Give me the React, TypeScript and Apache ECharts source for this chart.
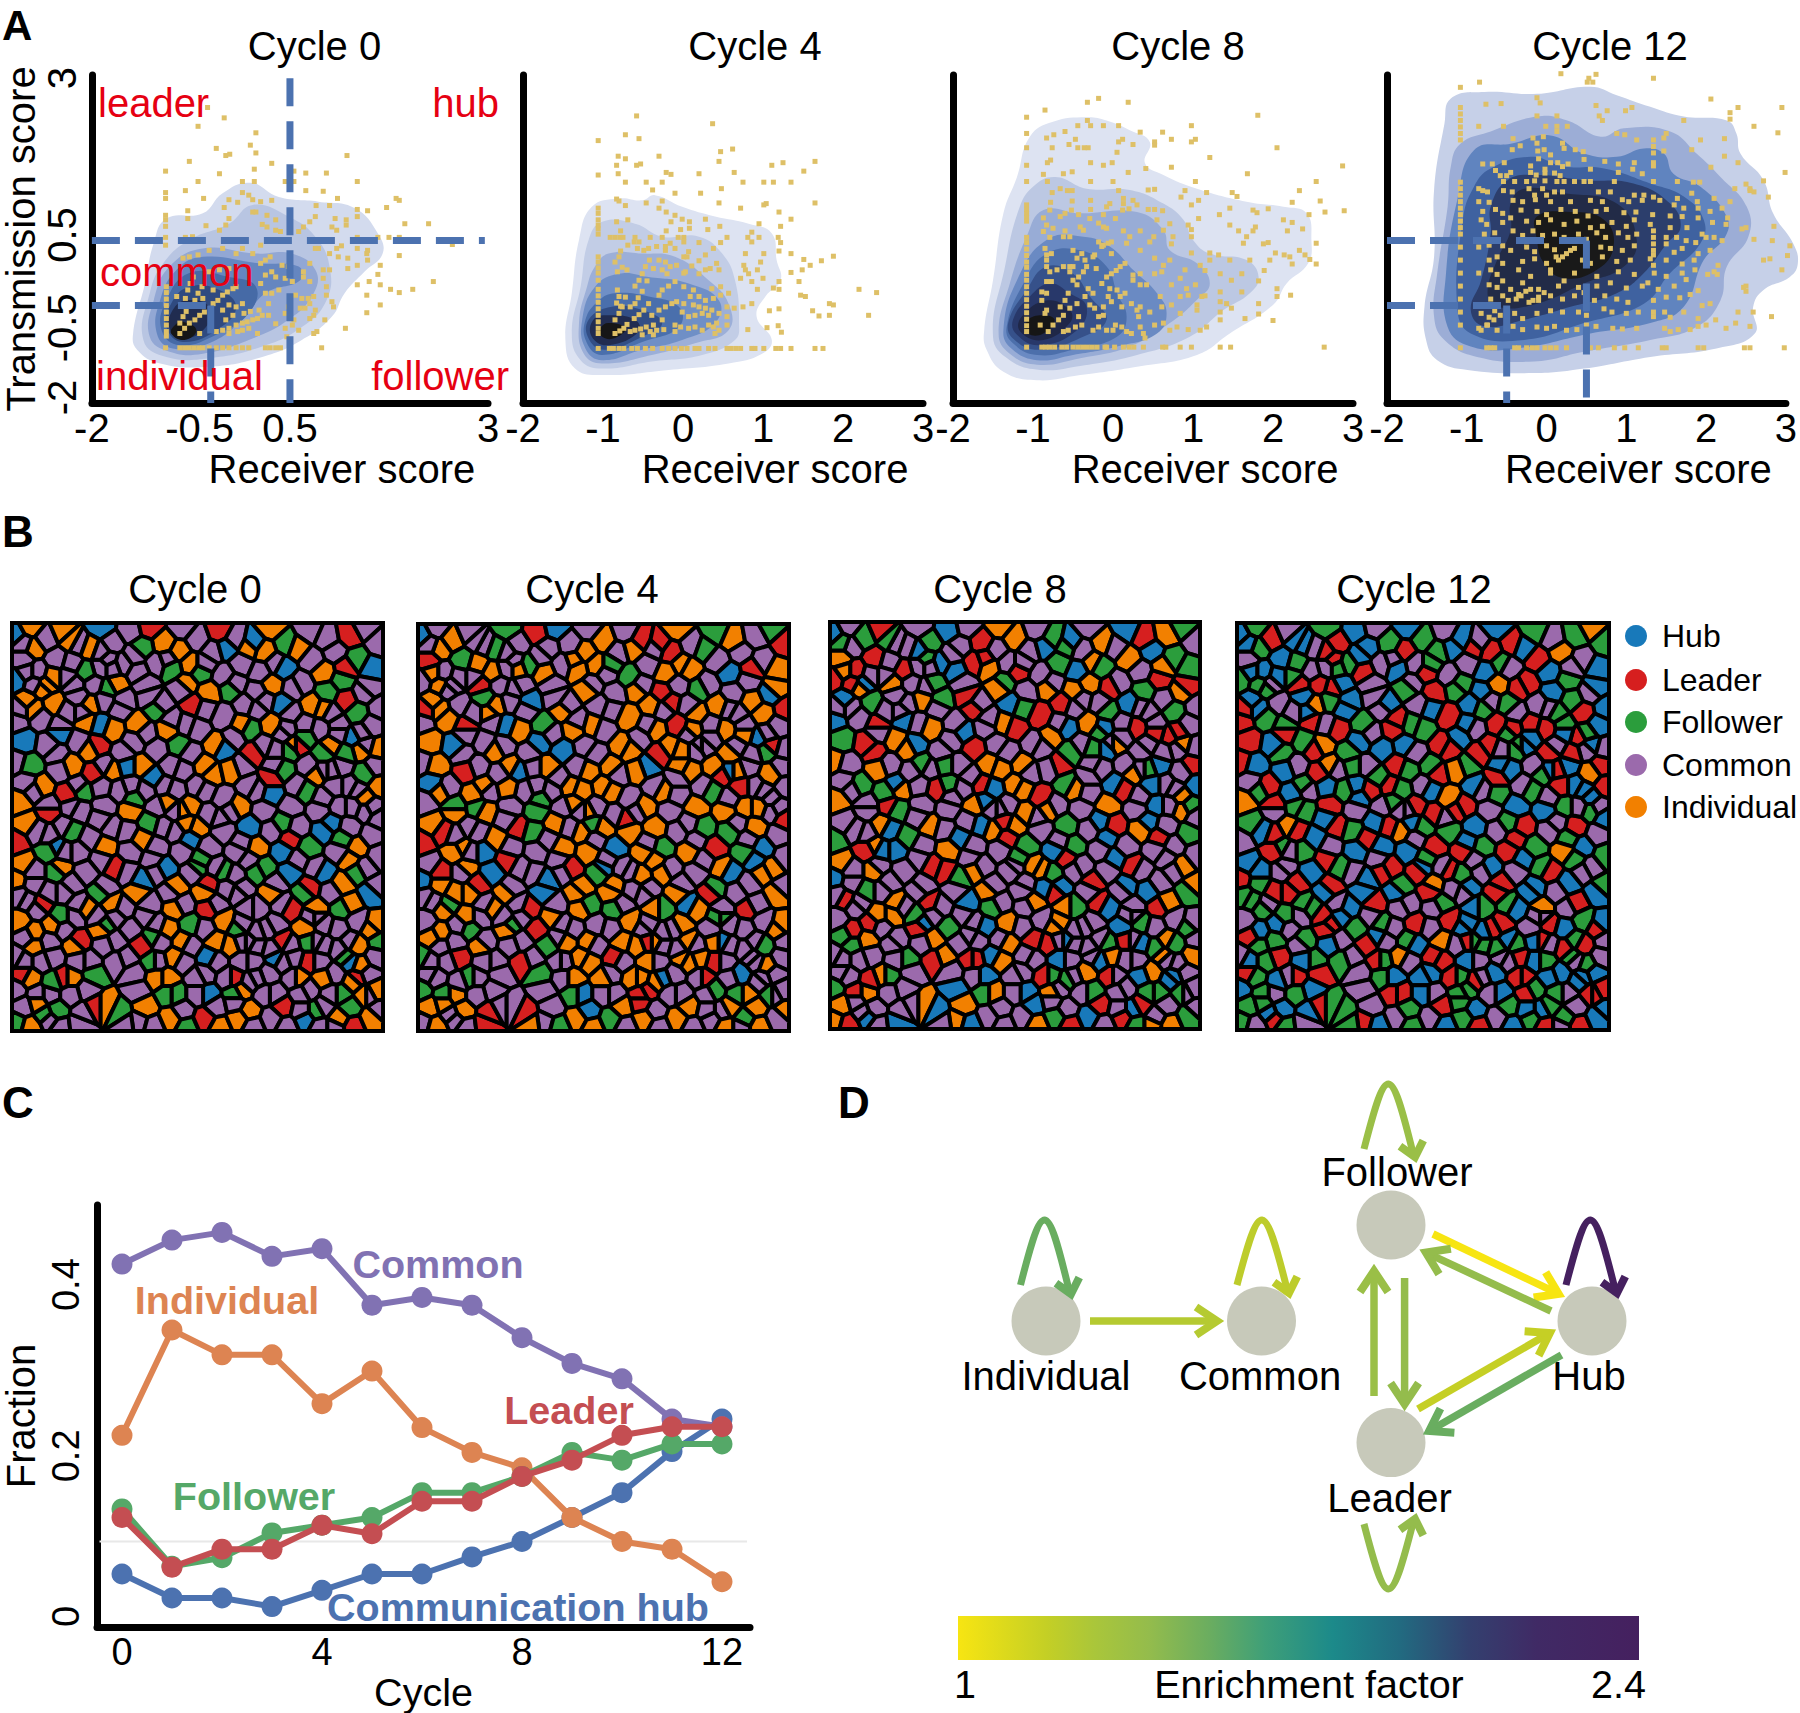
import React, { useEffect, useRef } from "react";
import * as echarts from "echarts";

const FONT = "Liberation Sans";

// ---------- Panel A data (receiver score, transmission score) ----------
const scoreTicksA = [-2, -0.5, 0.5, 3];
const scoreLabelsY = [" -2", "-0.5    ", " 0.5", "3"];
const scoreLabelsX = ["-2", "-0.5  ", "0.5", "3"];
const cycleTitlesA = ["Cycle 0", "Cycle 4", "Cycle 8", "Cycle 12"];

const points0 = [-.54,2.55,-.33,2.39,-.66,2.26,.07,2.16,0,1.97,-.43,1.92,-.31,1.81,-.26,1.83,.07,1.85,1.22,1.81,-.77,1.72,.27,1.69,.05,1.6,-1.07,1.57,-.39,1.53,.55,1.57,.7,1.54,.96,1.54,-.66,1.41,-.1,1.41,.05,1.41,.44,1.41,.55,1.41,1.35,1.41,-.82,1.27,-1.07,1.24,-1.07,1.15,-.59,1.15,.7,1.27,.92,1.26,-.1,1.24,-.27,1.13,-.02,1.2,.03,1.13,1.1,1.15,1.84,1.15,1.88,1.12,.13,1.1,.27,1.12,-.16,1.09,-.33,1.01,.83,1.04,1,1.04,1.72,1.01,1.35,.98,1.48,.96,-.79,.96,.03,.94,.07,.94,.21,.89,-1.07,.89,-1.07,.82,-1.07,.72,-.79,.84,-.27,.84,.32,.82,.82,.87,.75,.79,.67,.71,.61,.64,1.07,.84,1.03,.71,1.21,.82,1.21,.74,1.35,.87,1.95,.76,2.25,.76,-.56,.73,-.31,.74,.15,.75,.21,.71,.32,.66,.38,.64,-.39,.66,1.09,.66,1.35,.55,1.61,.55,1.75,.55,1.88,.55,2.55,.44,-1.07,.55,-1.07,.43,-.82,.55,-.73,.56,-.1,.38,-.35,.38,.13,.43,.03,.3,-.18,.3,-.52,.35,1.15,.42,1.09,.38,.82,.38,.86,.38,1.35,.38,1.48,.35,1.47,.3,1.88,.27,1.11,.25,1,.3,.25,.25,.19,.2,.13,.15,1.48,.2,1.23,.23,1.23,.07,1.35,.12,1.64,.12,-.85,.23,-.77,.25,-.66,.28,.75,.15,1,.05,.92,.05,.67,.02,.48,.1,.4,.12,1.61,-.02,1.5,-.13,1.35,-.18,1.64,-.18,2.31,-.13,2.05,-.25,1.77,-.25,1.88,-.3,.27,.02,.19,-.03,.32,-.06,.44,-.08,.53,-.13,.67,-.06,.75,-.13,.92,-.08,.96,-.21,.13,-.16,-.52,.02,-.39,.05,-.27,.07,-1.06,-.21,-1.06,-.3,-1.06,-.4,-1.06,-.5,-1.06,-.6,-1.06,-.7,-1.06,-.8,-1.06,-.9,-1.06,-.97,-.89,-.93,-.83,-.85,-.77,-.77,-.7,-.72,-.64,-.65,-.58,-.6,-.89,-.77,-.85,-.67,-.81,-.59,-.82,-.39,-.79,-.26,-.76,-.16,-.72,-.06,-.7,-.42,-.66,-.31,-.61,-.21,-.6,-.39,-.47,-.26,-.47,-.47,-.41,-.42,-.35,-.34,-.29,-.29,-.22,-.24,-.18,-.21,-.43,-.9,-.35,-.88,-.27,-.85,-.18,-.8,-.1,-.77,-.04,-.75,.03,-.72,.09,-.7,.15,-.65,-.08,-.62,0,-.59,.11,-.57,-.27,-.49,-.18,-.52,-.1,-.47,-.22,-.65,-.31,-.72,-.35,-.57,-.64,-.93,-.93,-.36,-.1,-.88,.09,-.93,-.02,-.85,-.27,-.93,-.16,-.9,.23,-.47,.19,-.31,.27,-.31,.36,-.26,.57,-.34,.65,-.39,.73,-.39,.8,-.36,.75,-.47,.69,-.54,.63,-.54,.82,-.57,.8,-.65,.75,-.7,.48,-.52,.44,-.62,.55,-.72,.53,-.8,.44,-.85,.46,-.98,.61,-.88,.23,-.65,.32,-.78,.84,-.9,.8,-.93,.94,-.72,1.05,-.52,1.03,-.44,.96,-.34,1.2,-.85,1.47,-.34,1.64,-.49,1.47,-.61,.9,-1.15,-1.07,-1.15,-.89,-1.15,-.83,-1.15,-.77,-1.15,-.71,-1.15,-.65,-1.15,-.6,-1.15,-.52,-1.15,-.43,-1.15,-.35,-1.15,-.27,-1.15,-.18,-1.15,-.1,-1.15,-.02,-1.15,.19,-1.15,.25,-1.15,.32,-1.15,.38,-1.15];

const points4 = [-.58,2.42,.37,2.3,-1.06,2.04,-.72,2.13,-.55,2.07,-.81,1.8,-.72,1.76,-.3,1.8,-.58,1.66,-.53,1.68,-.83,1.66,.47,1.87,.62,1.91,.45,1.72,-1.06,1.51,-.81,1.53,-.21,1.55,-.15,1.52,.2,1.53,.64,1.55,1.11,1.66,1.25,1.7,1.65,1.72,1.51,1.57,-.72,1.4,-.46,1.4,-.26,1.4,.75,1.4,1.01,1.4,1.13,1.4,1.35,1.4,-.38,1.28,.48,1.3,-.1,1.23,.22,1.23,-.83,1.14,-.8,1.11,-.46,1.08,-.26,1.11,.45,1.08,1.65,1.08,1.01,1.05,1.04,1.07,.72,1,-.72,1.04,-.3,1,-.21,.94,1.2,.94,-.1,.89,-.01,.83,.08,.79,.28,.83,1.35,.83,-.83,.79,-.69,.82,-.15,.79,.95,.76,1.22,.72,.46,.72,.31,.67,.08,.69,-.03,.67,-.21,.65,-.78,.65,.86,.63,-1.06,1,-1.06,.92,-1.06,.82,-1.06,.74,-1.06,.68,-1.06,.6,-.91,.55,-.85,.55,-.79,.55,-.75,.55,-.6,.55,-.61,.48,-.55,.48,-.41,.55,-.26,.55,-.06,.55,.01,.55,.01,.48,.2,.47,.47,.47,.55,.55,.81,.55,.95,.55,.86,.48,1.19,.55,1.22,.47,1.2,.34,-.69,.43,-.57,.38,-.49,.35,-.43,.38,-.33,.41,-.22,.41,-.16,.46,-.1,.38,-.22,.35,.38,.38,.28,.28,.2,.19,.11,.11,.01,0,-.1,-.13,-.18,-.2,-.26,-.26,-.3,-.34,.07,.33,.01,.25,.05,.25,-.78,.34,-.8,.25,-.85,.17,-.76,.09,-.82,.02,-.7,.05,-.42,.2,-.47,.1,-.51,-.01,-.55,-.11,-.6,-.2,-.3,.2,-.22,.17,-.16,.1,-.26,.05,-.37,.07,-.2,-.01,-.08,.12,.03,.02,.2,-.01,.28,.05,.34,.07,.42,.15,.45,.05,.76,.12,.78,.05,.82,-.01,.72,-.08,.93,.05,.97,.17,1.01,.3,.78,.3,1,-.08,.86,-.13,1.2,-.13,1.13,-.23,1.2,-.25,.93,-.25,1.35,.3,1.51,.21,1.59,.12,1.73,.19,1.88,.26,1.49,.05,1.35,.01,1.45,-.13,2.2,-.25,2.42,-.3,1.47,-.34,1.53,-.36,1.83,-.47,1.88,-.49,1.62,-.58,1.7,-.66,1.83,-.65,2.32,-.65,1.08,-.58,1.2,-.55,.86,-.47,.75,-.52,.64,-.54,1.05,-.84,1.19,-.81,1.23,-.91,.81,-.87,-1.06,.25,-1.06,.17,-1.06,.08,-1.06,0,-1.06,-.11,-1.06,-.25,-1.06,-.35,-1.06,-.45,-1.06,-.55,-1.06,-.65,-1.06,-.75,-1.06,-.85,-1.06,-.93,-.85,-.93,-.79,-.89,-.74,-.85,-.7,-.79,-.85,-.72,-.8,-.62,-.76,-.52,-.72,-.37,-.82,-.26,-.8,-.36,-.83,-.46,-.78,-.51,-.66,-.9,-.6,-.88,-.53,-.86,-.46,-.83,-.61,-.7,-.55,-.64,-.49,-.57,-.43,-.47,-.6,-.47,-.56,-.38,-.51,-.28,-.45,-.12,-.66,-.52,-.41,-.9,-.33,-.88,-.24,-.87,-.37,-.95,-.51,-.95,-.39,-.65,-.3,-.57,-.22,-.52,-.14,-.47,-.08,-.44,-.26,-.72,-.37,-.8,.01,-.21,.09,-.36,.2,-.36,.28,-.42,.38,-.39,.47,-.34,.57,-.31,.47,-.21,.36,-.24,.13,-.26,.01,-.47,-.01,-.6,.13,-.49,.2,-.52,.28,-.54,.36,-.57,.07,-.67,.15,-.65,.24,-.62,.32,-.65,.45,-.62,.55,-.52,.55,-.67,.55,-.8,-.1,-.8,-.03,-.83,-.1,-.9,.07,-.85,.15,-.83,.24,-.88,.32,-.8,.38,-.83,.42,-.77,.45,-.88,.4,-.93,-1.06,-1.16,-.92,-1.16,-.87,-1.16,-.8,-1.16,-.74,-1.16,-.64,-1.16,-.57,-1.16,-.47,-1.16,-.38,-1.16,-.26,-1.16,-.18,-1.16,-.1,-1.16,-.02,-1.16,.05,-1.16,.15,-1.16,.2,-1.16,.32,-1.16,.4,-1.16,.55,-1.16,.6,-1.16,.66,-1.16,.72,-1.16,.86,-1.16,.9,-1.16,1.01,-1.16,1.16,-1.16,1.22,-1.16,1.35,-1.16,1.65,-1.16,1.75,-1.16];

const points8 = [-.18,2.69,-.32,2.63,.19,2.63,-.85,2.51,-1.08,2.4,1.81,2.43,-.32,2.35,-.44,2.27,-.28,2.27,-.12,2.27,.07,2.27,.98,2.27,-.6,2.18,-.74,2.13,-1.08,2.15,.34,2.17,.62,2.17,-.83,2.08,-.47,2.06,.12,2.06,.07,2.02,.25,1.98,.52,2.02,.52,1.97,.73,2.06,.98,2.02,1.03,2.06,-.55,1.98,-.76,1.93,-1.08,1.93,-.44,1.93,-.36,1.93,-.31,1.93,2.05,1.93,.05,1.86,1.21,1.78,-.78,1.74,-.82,1.7,-.28,1.7,-.12,1.66,-.01,1.7,-1.08,1.66,.41,1.61,.73,1.63,2.87,1.65,-.87,1.52,-.62,1.53,-.51,1.56,.19,1.55,1.68,1.53,-1.08,1.41,-.82,1.41,-.28,1.41,0,1.41,1.03,1.41,2.54,1.41,-.66,1.3,-.57,1.27,-.51,1.27,-.76,1.24,.07,1.27,.44,1.28,.52,1.29,.9,1.27,1.17,1.24,1.49,1.24,1.55,1.18,2.33,1.27,.13,1.15,.13,1.07,.25,1.12,-.78,1.09,-.51,1.11,-.28,1.12,-.04,1.07,-.08,1.02,.3,1.05,.85,1.17,1.07,1.12,.98,1.05,1.46,1,1.94,.99,2.24,1.09,2.59,1.11,2.65,.94,2.89,.96,1.75,.97,1.8,.93,1.33,.9,2.45,.9,-1.08,1.05,-1.08,.98,-1.08,.92,-1.08,.86,-1.08,.8,-1.08,.55,-1.08,.47,-1.08,.37,-1.08,.27,-1.08,.17,-1.08,.09,-1.08,-.02,-1.08,-.11,-1.08,-.21,-1.08,-.31,-1.08,-.41,-1.08,-.51,-1.08,-.61,-1.08,-.71,-1.08,-.81,-1.08,-.9,-.79,.97,-.6,.92,-.66,.87,-.52,.97,-.43,.9,-.28,.98,-.12,.9,.03,.84,.12,.97,.2,.99,.44,.98,.52,.98,.62,.96,-.87,.85,-.29,.84,-.83,.74,-.87,.64,-.75,.69,-.6,.65,-.41,.71,-.37,.66,-.18,.77,-.12,.71,-.08,.69,.13,.65,.21,.56,.34,.65,.55,.82,.63,.66,.71,.76,.94,.74,.98,.67,1.07,.84,1.46,.74,1.57,.65,1.78,.71,1.75,.65,2.13,.82,2.24,.78,2.18,.65,2.37,.68,-.79,.55,-.62,.56,-.54,.56,-.18,.48,-.12,.43,-.02,.48,.17,.46,.46,.48,.51,.56,.75,.56,.73,.45,.98,.56,1.88,.45,1.94,.47,1.63,.46,1.67,.56,2.54,.46,-.85,.38,-.83,.28,-.77,.3,-.5,.35,-.39,.3,-.23,.28,-.14,.41,-.02,.3,-.06,.46,.34,.35,.98,.31,1.21,.31,1.32,.28,2.03,.31,2.14,.28,2.21,.25,2.33,.35,2.4,.28,2.46,.21,1.96,.2,1.71,.2,1.46,.2,2.54,.14,2.24,.14,1.89,.04,1.21,.2,1.09,.12,1.15,.04,.9,.05,.71,.2,.63,.12,.52,.23,.61,.02,.52,-.01,.34,-.01,.25,-.03,-.83,.2,-.83,.1,-.79,.02,-.7,.05,-.62,.1,-.54,.1,-.45,.23,-.5,.1,-.54,.02,-.35,.2,-.33,.1,-.37,.02,-.25,.25,-.21,.07,-.43,-.06,-.5,-.11,.15,.15,.09,.1,.04,.04,-.02,-.01,-.08,-.06,-.14,-.16,-.83,-.13,-.77,-.13,-.89,-.29,-.83,-.31,-.89,-.42,-.45,-.18,-.56,-.31,-.6,-.42,-.66,-.52,-.35,-.36,-.45,-.47,-.54,-.54,-.62,-.65,-.68,-.72,-.83,-.57,-.85,-.62,-.91,-.8,-.81,-.9,-.75,-.8,-.62,-.9,-.56,-.88,-.47,-.83,-.43,-.67,-.39,-.8,-.31,-.24,-.25,-.31,-.29,-.49,-.23,-.54,-.12,-.52,-.12,-.65,-.18,-.67,-.25,-.88,-.18,-.83,-.08,-.88,0,-.88,.03,-.8,.11,-.83,.17,-.9,.23,-.93,-.04,-.24,.05,-.26,.09,-.36,.15,-.31,-.06,-.36,-.02,-.44,.25,-.11,.34,-.18,.42,-.18,.11,-.52,.23,-.47,.3,-.57,.34,-.52,.32,-.67,.34,-.83,.46,-.6,.59,-.36,.61,-.52,.38,-.93,.4,-1,.52,-.8,.63,-.77,.71,-.88,.8,-.83,.94,-.87,1.09,-.88,1.17,-.83,.73,-.18,.84,-.08,.92,-.24,.94,-.34,1.05,-.49,1.05,-.57,1.11,-.36,1.15,-.35,1.03,-.18,.84,-.36,.73,-.49,.84,-.62,1.34,-.01,1.34,-.29,1.34,-.44,1.42,-.47,1.48,-.54,1.34,-.6,1.34,-.72,1.65,-.7,1.82,-.47,1.82,-.63,2,-.73,2.05,-.24,2.05,-.36,2.22,-.34,1.82,-.12,1.61,-.01,1.48,-.11,1.61,-.29,-1.08,-1.14,-.89,-1.14,-.84,-1.14,-.79,-1.14,-.73,-1.14,-.64,-1.14,-.58,-1.14,-.5,-1.14,-.44,-1.14,-.38,-1.14,-.32,-1.14,-.26,-1.14,-.2,-1.14,-.1,-1.14,-.08,-1.14,.02,-1.14,.13,-1.14,.2,-1.14,.26,-1.14,.38,-1.14,.62,-1.14,.66,-1.14,.84,-1.14,.98,-1.14,1.34,-1.14,1.47,-1.14,2.64,-1.14];

const points12 = [.18,3.07,.62,3.06,.53,3,.58,2.94,.51,2.94,1.34,3,-.84,2.94,-1.08,2.86,-.12,2.7,-.08,2.62,2.06,2.68,-.76,2.6,-.57,2.61,.62,2.58,.76,2.5,.99,2.5,1.07,2.55,2.4,2.55,2.95,2.55,-1.08,2.55,-1.08,2.45,-1.08,2.35,-1.08,2.25,-1.08,2.15,-1.08,2.05,-.12,2.42,.13,2.42,.66,2.42,.7,2.35,1.72,2.35,2.3,2.37,2.3,2.47,-.85,2.26,-.54,2.26,-.01,2.26,.13,2.26,.26,2.26,.13,2.18,2.6,2.26,2.9,2.16,.88,2.15,.98,2.13,1.13,2.05,1.5,2.15,1.47,2.08,2.23,2.07,1.93,2.05,-.42,2.07,-.17,2.08,-.04,2.1,-.12,2,-.33,1.96,-.43,1.9,-.03,1.9,-.11,1.88,.2,2,.22,1.92,.36,1.9,.05,1.82,.46,1.87,-.1,1.76,1.34,2.05,1.34,1.95,1.34,1.85,1.34,1.7,1.34,1.65,1.47,1.88,1.82,1.9,2.23,1.8,.9,1.68,1.1,1.7,.73,1.72,.55,1.6,.47,1.75,-.8,1.68,-.68,1.68,-.64,1.58,-.53,1.7,-.45,1.55,-.2,1.65,.05,1.7,.14,1.7,-.02,1.6,.2,1.64,.27,1.68,1.08,1.6,.9,1.55,1.2,1.53,2.06,1.63,2.4,1.7,2.99,1.55,-.5,1.5,-.58,1.5,-.2,1.55,-.13,1.51,-.02,1.54,.1,1.54,.17,1.5,-.54,1.41,-.4,1.41,-.25,1.41,-.15,1.42,-.02,1.42,.13,1.41,.22,1.41,.35,1.41,.47,1.41,.55,1.41,.85,1.41,1.34,1.41,1.64,1.41,1.84,1.4,1.92,1.4,2.5,1.37,2.55,1.27,2.36,1.3,2.55,1.3,2.72,1.42,2.6,1.25,2.78,1.17,-.85,1.3,-.8,1.27,-.74,1.25,-.54,1.27,-.43,1.25,-.22,1.3,-.15,1.2,-.05,1.3,0,1.2,.1,1.25,.2,1.25,.65,1.25,.8,1.25,1.1,1.2,1.22,1.2,1.34,1.17,1.64,1.15,1.82,1.23,2.3,1.1,2.1,1.15,1.89,1.1,-.85,1.1,-.72,1.09,-.42,1.12,-.3,1.1,-.14,1.13,.05,1.1,.3,1.1,.55,1.12,.7,1.1,.95,1.13,1.03,1.1,1.2,1.12,1.42,1.12,1.6,1.05,1.72,1,1.9,1,2.05,.95,2.2,1,-.8,.95,-.64,.98,-.55,.92,-.32,.97,-.12,.95,0,.9,.18,.98,.36,.95,.52,.88,.62,.95,.75,.98,.97,.93,1.12,.94,1.33,.9,1.55,.88,1.7,.87,1.9,.85,2.08,.78,2.27,.85,-.82,.82,-.75,.75,-.55,.78,-.45,.85,-.25,.8,-.1,.78,.05,.82,.22,.75,.38,.8,.55,.7,.7,.72,.82,.78,1,.72,1.1,.82,1.3,.75,1.34,.65,1.55,.7,1.76,.7,1.95,.6,2.25,.75,2.45,.68,2.5,.7,2.85,.72,-.78,.6,-.65,.62,-.42,.65,-.3,.58,-.17,.65,-.05,.58,.1,.6,.22,.55,.4,.6,.5,.52,.63,.62,.74,.55,.9,.62,1.02,.55,1.13,.6,1.34,.55,1.34,.45,1.5,.55,1.5,.45,1.63,.55,1.75,.5,1.87,.47,2,.55,2.1,.55,2.2,.5,2.83,.5,2.6,.52,3.05,.42,-1.08,.4,-.85,.4,-.72,.43,-.55,.42,-.45,.35,-.25,.4,-.15,.33,0,.42,.1,.36,.35,.38,.5,.32,.68,.4,.8,.38,.95,.35,1.1,.42,1.34,.35,1.34,.28,1.6,.32,1.7,.38,1.9,.3,2.05,.35,3.02,.27,2.72,.2,2.8,.22,2.95,.05,.3,.35,.25,.3,.2,.25,.15,.2,.05,.05,-1.08,.2,-.72,.2,-.62,.25,-.55,.15,-.3,.18,-.15,.22,0,.15,.12,.25,.45,.2,.55,.15,.7,.25,.88,.18,1.05,.2,1.3,.22,1.34,.12,1.5,.2,1.7,.14,1.85,.2,2.15,.12,2.1,.02,2.14,-.02,2.5,-.2,-1.08,0,-.85,0,-.7,.05,-.62,-.02,-.35,.05,-.2,-.05,.05,0,.35,0,.63,-.05,.9,.02,1.1,-.02,1.35,0,1.5,-.05,1.7,0,1.86,.05,2.02,-.02,2.5,-.28,2.47,-.22,-1.08,-.2,-.72,-.18,-.62,-.22,-.55,-.12,-.45,-.25,-.3,-.15,-.1,-.25,.15,-.2,.22,-.12,.4,-.22,.63,-.2,.8,-.15,1,-.23,1.2,-.2,1.4,-.25,1.6,-.2,1.75,-.1,1.9,-.27,1.27,-.15,-1.08,-.4,-.7,-.4,-.55,-.35,-.48,-.42,-.35,-.33,-.22,-.45,-.1,-.42,.05,-.35,.2,-.4,.35,-.35,.47,-.3,.6,-.42,.73,-.35,.88,-.4,1.02,-.45,1.34,-.42,1.5,-.37,1.67,-.38,1.8,-.33,2.05,-.47,1.95,-.5,2.59,-.6,2.4,-.6,-1.08,-.6,-.82,-.62,-.72,-.68,-.65,-.58,-.5,-.55,-.4,-.62,-.3,-.7,-.12,-.62,.05,-.58,.2,-.6,.4,-.6,.5,-.65,.72,-.55,.82,-.6,1,-.62,1.15,-.6,1.34,-.6,1.34,-.67,1.48,-.6,1.55,-.68,1.72,-.6,1.9,-.7,2.12,-.72,2.37,-.77,2.82,-.67,-1.08,-.8,-.85,-.85,-.75,-.8,-.62,-.88,-.42,-.82,-.3,-.87,-.12,-.83,0,-.85,.1,-.82,.25,-.88,.38,-.87,.5,-.8,.62,-.82,.83,-.85,.95,-.86,1.13,-.85,1.48,-.85,1.55,-.9,1.65,-.87,1.8,-.87,1.9,-.82,2,-.8,2.25,-.85,2.55,-.82,-.82,-.88,-.74,-.8,-.66,-.72,-.58,-.65,-.38,-.4,-.32,-.35,-.26,-.28,-.2,-.25,-.17,-.42,-.1,-.37,-.03,-.3,-1.08,-1.15,-.75,-1.15,-.7,-1.15,-.65,-1.15,-.4,-1.15,-.35,-1.15,-.25,-1.15,-.18,-1.15,-.12,-1.15,-.02,-1.15,.05,-1.15,.12,-1.15,.25,-1.15,.55,-1.15,.65,-1.15,.85,-1.15,.98,-1.15,1.15,-1.15,1.45,-1.15,1.5,-1.15,1.9,-1.15,1.97,-1.15,2.48,-1.15,2.55,-1.15,2.98,-1.15,-1.08,1.4,-1.08,1.3,-1.08,1.2,-1.08,1.1,-1.08,1,-1.08,.9,-1.08,.8,-1.08,.7,-1.08,.6];

const density0 = [
  [0,1.39,.36,1.17,.86,1.1,1.32,1,1.61,.61,1.67,.3,1.44,.02,1.19,-.31,1.03,-.67,.65,-1.03,.15,-1.29,-.52,-1.44,-1.14,-1.39,-1.43,-1.18,-1.48,-.93,-1.33,-.16,-1.22,.46,-1.06,.84,-.6,.92,-.35,1.23],
  [.03,1.05,.48,.87,.82,.56,1,.1,.96,-.42,.65,-.83,.15,-1.13,-.52,-1.31,-1.06,-1.29,-1.35,-1.03,-1.27,-.31,-1.1,.15,-.77,.51,-.27,.76],
  [-.6,.38,.07,.3,.52,.3,.82,.05,.8,-.31,.48,-.72,-.02,-1.03,-.6,-1.24,-1.02,-1.21,-1.27,-.98,-1.22,-.42,-1.02,.1],
  [-.6,.25,.11,.15,.61,.1,.63,-.11,.19,-.31,-.1,-.72,-.52,-1.08,-.98,-1.16,-1.18,-.93,-1.14,-.42,-.93,.05],
  [-.77,0,-.27,-.06,.07,-.21,-.02,-.62,-.43,-.95,-.89,-1.11,-1.12,-.88,-1.06,-.42],
  [-.77,-.21,-.39,-.26,-.18,-.52,-.39,-.85,-.85,-1.06,-1.06,-.83,-1,-.47],
  [-.81,-.42,-.52,-.52,-.56,-.83,-.85,-1.01,-1.02,-.85,-.98,-.57],
  [-.85,-.75,-.68,-.88,-.83,-1.03,-1,-.93,-.95,-.8],
];
const density4 = [
  [-.35,1.2,-.01,1.02,.4,.87,.82,.76,1.11,.61,1.17,.2,1.22,-.11,1.03,-.36,.92,-.67,1.11,-1.03,.99,-1.24,.57,-1.39,-.18,-1.49,-1.01,-1.57,-1.35,-1.47,-1.47,-1.03,-1.39,-.31,-1.3,.51,-1.14,1.02,-.8,1.15,-.51,1.12],
  [-1.01,.79,-.6,.76,-.26,.56,.2,.56,.49,.3,.65,-.11,.7,-.77,.65,-1.03,.24,-1.26,-.39,-1.36,-1.01,-1.47,-1.28,-1.34,-1.39,-.93,-1.28,-.21,-1.18,.51],
  [-.93,.3,-.51,.3,-.1,.25,.32,-.11,.57,-.47,.57,-.88,.15,-1.08,-.39,-1.26,-1.01,-1.39,-1.24,-1.24,-1.3,-.77,-1.2,-.21,-1.1,.1],
  [-.8,-.01,-.43,-.06,.07,-.16,.45,-.42,.4,-.77,-.01,-1.03,-.51,-1.18,-1.01,-1.34,-1.22,-1.16,-1.26,-.72,-1.1,-.21],
  [-.85,-.31,-.43,-.36,-.05,-.52,-.05,-.83,-.51,-1.06,-1.01,-1.26,-1.2,-1.08,-1.22,-.72,-1.05,-.42],
  [-.89,-.52,-.51,-.57,-.26,-.77,-.51,-.98,-.97,-1.18,-1.17,-1.03,-1.18,-.72],
  [-.93,-.65,-.6,-.72,-.55,-.9,-.93,-1.11,-1.14,-.98,-1.12,-.72],
  [-.93,-.77,-.72,-.85,-.85,-1,-1.01,-.98,-1.03,-.85],
];
const density8 = [
  [-.33,2.4,-.08,2.35,.21,2.2,.46,2.02,.4,1.69,.63,1.51,1.05,1.3,1.67,1.1,2.13,1.02,2.42,.92,2.48,.51,2.44,.15,2.17,-.16,2,-.49,1.46,-.93,1.05,-1.26,.3,-1.44,-.41,-1.57,-.95,-1.65,-1.37,-1.52,-1.58,-1.18,-1.61,-.88,-1.5,-.11,-1.37,.92,-1.2,1.48,-1.04,2.1,-.75,2.33],
  [-.72,1.48,-.33,1.3,.21,1.28,.63,1.07,.88,.82,1,.51,1.21,.3,1.67,.2,1.82,-.06,1.71,-.31,1.38,-.57,.96,-.98,.3,-1.26,-.41,-1.43,-.91,-1.49,-1.29,-1.34,-1.5,-.98,-1.35,.1,-1.18,.97,-1,1.33],
  [-.87,.97,-.41,.92,.3,.94,.63,.66,.71,.35,1.05,.15,1.21,-.16,1.05,-.41,.71,-.77,.21,-1.13,-.41,-1.31,-.95,-1.41,-1.29,-1.24,-1.43,-.93,-1.29,-.16,-1.08,.56],
  [-.83,.51,-.37,.56,-.04,.41,.25,.05,.55,-.31,.67,-.62,.55,-.93,.05,-1.13,-.5,-1.26,-.95,-1.34,-1.27,-1.16,-1.37,-.88,-1.2,-.11],
  [-.83,.3,-.41,.35,-.08,.1,.05,-.31,.17,-.67,.05,-.98,-.5,-1.18,-.95,-1.26,-1.25,-1.08,-1.33,-.83,-1.12,-.16],
  [-.83,.1,-.5,-.01,-.29,-.36,-.08,-.72,-.41,-1,-.91,-1.18,-1.23,-1.03,-1.31,-.77,-1.08,-.26],
  [-.79,-.16,-.54,-.31,-.33,-.52,-.45,-.88,-.91,-1.11,-1.2,-.95,-1.25,-.72,-1.04,-.36],
  [-.83,-.42,-.54,-.57,-.54,-.77,-.87,-1.03,-1.16,-.9,-1.14,-.67],
  [-.91,-.65,-.73,-.72,-.87,-.93,-1.06,-.93,-1.08,-.75],
];
const density12 = [
  [-1.2,2.69,-.78,2.79,-.12,2.76,.55,2.87,.88,2.74,1.3,2.56,1.72,2.41,2.26,2.35,2.38,2.15,2.43,1.84,2.72,1.43,2.84,.92,3.09,.46,3.15,.15,3.05,-.06,2.72,-.26,2.59,-.52,2.61,-.93,2.13,-1.16,1.3,-1.29,.47,-1.47,-.16,-1.54,-.99,-1.49,-1.37,-1.34,-1.51,-1.03,-1.53,-.52,-1.41,.25,-1.41,1.28,-1.28,2.3],
  [-1.08,1.99,-.7,2.18,-.12,2.41,.26,2.35,.68,2.1,.97,2.23,1.55,2.18,1.88,1.84,2.18,1.48,2.51,1.02,2.53,.56,2.26,.1,2.18,-.42,1.88,-.83,1.3,-1.03,.47,-1.21,-.16,-1.36,-.87,-1.29,-1.28,-1.03,-1.41,-.67,-1.37,0,-1.24,1.02,-1.2,1.64],
  [-.91,1.89,-.45,1.99,.05,2.12,.47,1.84,.88,1.79,1.22,1.92,1.47,1.84,1.59,1.53,1.93,1.33,2.26,.87,2.24,.56,1.97,.2,1.72,-.52,1.3,-.77,.55,-.93,-.37,-1.16,-.95,-1.13,-1.24,-.83,-1.26,0,-1.12,1.12],
  [-.7,1.61,-.2,1.79,.22,1.64,.72,1.61,1.3,1.38,1.72,1.18,1.97,.82,1.93,.46,1.55,0,1.22,-.47,.47,-.77,-.28,-1.03,-.95,-.93,-1.12,-.52,-1.05,.82,-.91,1.33],
  [-.49,1.43,-.12,1.51,.47,1.43,1.09,1.38,1.55,1.07,1.68,.71,1.51,.46,1.22,0,.88,-.31,.3,-.52,-.28,-.72,-.78,-.82,-.95,-.57,-.82,-.11,-.7,.61,-.7,1.02],
  [-.28,1.3,.22,1.23,.88,1.07,1.13,.51,.97,.1,.47,-.16,-.12,-.47,-.62,-.52,-.74,-.31,-.62,.2,-.45,.66,-.45,1.07],
  [-.12,.87,.3,.94,.72,.82,.84,.41,.63,.05,.22,-.08,-.03,.15,-.12,.51],
];
const densityColors0 = ["#d3dbee", "#b8c5e2", "#92a7d4", "#6586c0", "#466aa6", "#2f4a80", "#202c50", "#161616"];
const densityColors4 = ["#dde3f2", "#c2cde6", "#9cafd8", "#6f8fc6", "#4a6fac", "#324e85", "#212c50", "#161616"];
const densityColors8 = ["#dde3f2", "#bcc8e3", "#98acd6", "#6a8ac3", "#4c6fab", "#36518a", "#28386a", "#1f2748", "#161616"];
const densityColors12 = ["#c6d0e8", "#9cadd6", "#6084bf", "#3f62a0", "#2c3e6c", "#222b47", "#191919"];

const guideLines0 = [[[-2, .5], [2.96, .5]], [[.5, 3], [.5, -2]], [[-2, -.5], [-.5, -.5]], [[-.5, -.5], [-.5, -2]]];
const guideLines12 = [[[-2, .5], [.5, .5]], [[.5, .5], [.5, -2]], [[-2, -.5], [-.5, -.5]], [[-.5, -.5], [-.5, -2]]];

const quadrantNames = ["leader", "hub", "common", "individual", "follower"];

// ---------- Panel B data ----------
const cellSeedRows = [
"1,3 5,1 9,4 14,2 18,5 24,1 27,5 32,2 37,1 41,5 46,1 50,4 56,2 60,4 65,5 70,1 74,5 80,2 85,4 91,3 95,1 99,5",
"3,9 6,6 12,9 16,10 21,6 26,9 30,10 35,6 39,10 45,7 48,10 54,7 58,6 62,10 68,7 71,10 77,6 81,9 87,7 93,9 97,11",
"1,14 4,12 9,15 15,13 17,15 24,11 28,15 34,12 36,15 43,11 47,15 51,12 57,13 60,15 67,12 70,15 73,11 78,15 84,12 89,14 90,11 96,16",
"4,19 8,16 11,20 18,18 21,20 26,16 30,19 37,18 40,20 46,16 49,20 53,17 59,16 63,20 68,19 73,20 76,16 81,20 85,17 90,19 95,17 99,21",
"1,24 6,21 13,25 15,22 20,24 24,25 29,21 34,25 39,21 43,24 47,25 52,21 57,23 62,25 66,21 70,25 75,22 79,25 84,21 88,25 93,22 97,25",
"3,29 10,30 13,27 18,29 23,30 27,26 33,29 36,27 42,26 45,30 50,26 55,30 60,28 64,26 68,30 73,27 77,30 83,26 86,30 92,28 95,30 99,31",
"1,34 5,35 12,32 16,35 21,31 25,35 30,32 35,35 39,31 43,35 48,32 52,35 57,31 62,35 65,32 71,35 75,31 80,35 84,32 89,35 94,31 98,35",
"4,39 8,40 13,36 18,40 22,37 27,36 32,40 38,38 41,40 46,36 50,40 54,37 59,36 64,40 70,38 73,36 77,40 82,37 86,36 91,40 95,37 99,40",
"2,44 6,41 10,45 15,42 19,41 25,45 29,41 33,43 39,45 44,41 48,45 52,41 57,43 61,45 66,41 70,42 75,45 79,41 84,43 88,45 93,41 97,45",
"4,49 10,46 14,50 18,46 24,48 27,50 32,46 37,49 41,50 46,46 50,50 56,48 59,46 64,50 68,46 73,49 77,50 83,46 86,49 91,50 95,46 99,48",
"1,54 7,51 12,55 16,51 21,53 25,55 31,51 35,53 39,55 44,51 48,53 53,55 57,51 62,54 66,55 70,51 75,53 80,55 84,51 89,53 93,55 97,52",
"3,59 10,56 13,60 18,56 24,58 28,60 32,56 38,58 41,60 46,56 51,58 55,60 61,56 64,58 68,60 73,56 77,58 82,60 88,56 91,58 95,60 99,57",
"1,63 6,64 12,61 16,64 20,61 25,65 31,61 35,63 39,61 44,65 49,61 53,64 57,61 62,65 66,61 71,64 75,61 80,65 84,61 89,64 93,61 98,65",
"4,68 8,69 14,66 18,69 24,66 27,69 34,66 37,69 43,66 46,69 52,66 55,69 61,66 64,70 70,66 73,69 79,66 82,70 86,66 91,69 97,66",
"2,73 7,70 11,74 17,72 20,70 25,74 30,70 36,72 39,74 44,70 48,74 53,70 57,73 62,74 66,70 71,74 75,70 81,72 84,74 89,70 93,73 98,74",
"4,77 10,78 14,75 18,78 24,75 28,78 32,75 38,77 42,75 46,78 52,75 55,78 61,75 64,78 69,75 73,78 79,75 82,78 88,75 91,78 97,75 99,78",
"1,82 6,79 11,82 17,79 21,83 25,79 31,82 35,79 39,83 44,82 48,79 53,82 59,79 62,83 66,79 71,82 75,79 80,83 84,79 90,82 93,79 98,82",
"3,86 8,83 14,87 18,83 22,86 28,83 33,86 38,83 42,87 46,83 52,86 55,83 60,87 65,83 69,86 73,83 77,87 83,83 87,86 91,83 96,86",
"1,90 5,87 10,91 16,87 20,90 34,90 39,87 44,91 50,87 53,91 58,87 62,90 66,87 71,91 76,87 80,90 84,87 89,91 93,87 98,90",
"3,94 7,91 12,95 16,91 36,94 42,91 46,95 50,91 55,94 60,91 64,95 68,91 73,94 78,91 82,95 86,91 91,94 95,91 99,95",
"1,98 5,99 9,96 13,99 34,98 38,99 43,97 47,99 52,97 56,99 61,97 65,99 70,97 74,99 79,97 83,99 88,97 92,99 97,97",
"18.1,98.4 19.4,95.4 22.2,94 25.6,94 28.8,95.4 30.9,98.4",
"3,5 7,12 6,15 11,13 2,21 8,23 16,4 20,12 22,15 25,19 19,22 27,11 24,7 33,8 42,9 52,10 64,6 66,17 74,26 76,30 79,28 71,31 86,22 88,27 90,32 94,27 84,36 87,40 92,45 95,43 31,35 36,41 24,40 16,45 10,52 14,56 6,61 10,66 2,67 6,76 13,72 23,72 28,72 44,46 42,44 47,49 53,47 50,60 60,62 58,65 62,78 66,76 70,80 76,82 80,78 82,72 88,80 94,84 92,88 96,91 84,94 78,95 87,99 60,93 64,88 11,88 7,93 10,97 3,83 40,78",
];
const cellKinds0 = "HICICHCCLICCLCHIFCCLCC"+"CICCICCFCIICHCICICCFH"+"HCICCCICCFIFCCCIHCIFLCI"+"IICIFCCCCLIFCCHCIFLCCC"+"ICCIHCIFCCCCICICCICFCH"+"CHCLICCIFCICFCCLCIHCIC"+"FCIICCICCCIHCLCFCFCICC"+"ICCLICHCCCIICLFCICCFII"+"CCLFCCFCCICCICHCFCCCCI"+"LCCCCIFCIICCHCFCCHCCCL"+"CHFCICICCHCCCICLFHFICI"+"FICCLCCHCFCCCFHCCCICCI"+"CFCCCCHCICLFCFCHLHIFCC"+"LCCFIICCCICCCICFICIHI"+"CICIFCCCIFLICCCLCCFCIC"+"CCLICCFIICIFCCLICCCIFC"+"ICICCCLCICHICCHCLCFICL"+"CLCFCCFICCCLCCCICCHCC"+"ICICCIFCHCICCCCIFLIC"+"CFCIFCCCFICLCFCFICF"+"IFCCCIFLIICCCHCILIC"+"CLIFCC"+"CCICCIFCCCCCCCCICCIFCCCFCCCCIHCCCCCCCCIFCCCIICFCCCCCCFCCIICCCCCCFICCCC";
const cellKinds4 = "HCICCFCLHCCICLLICFICFL"+"LIFIFCFCCIICICLIFCCCI"+"CICCLCCICICCFCICICHCLI"+"ICCFICHCCICCIILCFICIHL"+"CILCCHCFICICICCLICCCIC"+"IHCCCIHCICCICIICCICHLC"+"CICCIICIHCCIIHLICIICFC"+"HCLICHCCIIICICCICLICIC"+"CIFICCCFCICICIICIFCICC"+"IICICLFICIILCICCFICICL"+"LLICICFCIICHICFCCLFCHC"+"CIIHLCCCLICCIICICIFHIC"+"HICLHCCHCIFICCICCFHCIC"+"CFICICHCIFICCIIHLCCCI"+"CICCIFLICICFICFIIFCLCI"+"ICFCICLCCICICICICHCCIC"+"FCLICCCFCICLIICICLCCFC"+"CCFCCLFCIICCICCILCHCC"+"FCICCCCHICILHCCFCIC"+"CIFICCFHCILCCICCFIF"+"ICICCCFIIFCICICCIFI"+"CLLCCL"+"ICCICLICICCIICCIFCLICCICICCHLICCCIFCCLICIICCCIFCHICLCCIIFCICCICCLICICCI";
const cellKinds8 = "HCFLCCFHCLIICFHCIHLIFC"+"ICLCCFHCLCCCHFCICIHFF"+"LIHCICFHCIFLCCHIFCCLIL"+"HIFCCCFLCIHCILCCLHFCIC"+"HCLCHCCCLCIFLCCIFCCCFC"+"FLCIHICHCCLCIHCFILCLIC"+"ICLCIFCCLICICLFCHCCHCL"+"CFIHCCFCLIICCFCCHIFCCH"+"ICCFICLCIHCILCICILCHCF"+"CCIFCICCHCICIFCHLCHCIC"+"FCIHFCCHCILFCCFCHCILCF"+"ILCHCLICCCFIHLCCHLCCIC"+"HCICCCLFICCCIHCLCHCCCI"+"LCCICLCHICCILICLCCHIFC"+"CLICHCCCFICCIFCHCFLCCF"+"ICCLIFCHCCLIHCCHCCIFCC"+"FCCFCICLHICLHCCFCHIFIC"+"CICCLCLHICCFCIHCCICCF"+"CIFCHCICHLCCFLCHFHCIL"+"CCIFCCHICCLCHFCFCILCC"+"IHCCCIFLHCLFCIFHCCI"+"HCFLLCC"+"CFLCICCHCLCFIHCCFCLCLCHCIFCCLCHCFCLIFCCHLICFHCCCILCFCHCLCICFLCHCCFILCCF";
const cellKinds12 = "HFLCHFLHCFHFCHCHLFCFIF"+"CFHFCLFHCLCFHCLFHLICH"+"FHCFLCHLCHCLCFHICLHFCH"+"HFCHILHCHFCLFHCFLCHFCH"+"LHFCLCHFCLFHLHFLCLCFLH"+"LHLFILHCLHFLHCLFHLCLHC"+"LHFCLIFCHLCFLFLHFCLHCL"+"CLHFLCHFLFCLIHLHCFLHIL"+"IFLHCLFHCFLHILCFHFCFHC"+"FCIFHLCHLCFCLHCFLHCLFH"+"CHFLHCFLHICLFHFCLFCFHC"+"HLCFLFHCLHFCLCHLHFIFCF"+"LFCLHLCHLFLILHCLCHLHCF"+"FCLFHCHLHCLFCHLFHICLH"+"CFHCFLHCFCLCLHFLHCLCFH"+"LFCFLCFHCFCIHFLHCLHFLC"+"CFLCFHCLFIHLCHFCFHCFLC"+"LFCHLFCLHCHLFCHCLFHCH"+"HFCLHCFLHCLFCHLFHCHLF"+"FHFCLFHLFHCFLHFCLHFCH"+"FLHCFCHFLCHFLFLHCHL"+"FFFHHF"+"HLFHCLFHFLHCFLHLFHCFHLFHLCHFLHFLCHLFHFLHCFHLHFCLHFLHCLFHLFHCFLHFLHCLFHL";
const cellKindList = [cellKinds0, cellKinds4, cellKinds8, cellKinds12];
const cellColors: Record<string, string> = { H: "#1879ba", L: "#d61f1f", F: "#2b9d3c", C: "#9b6aac", I: "#f28000" };
const legendNames = ["Hub", "Leader", "Follower", "Common", "Individual"];
const legendKinds = ["H", "L", "F", "C", "I"];

// ---------- Panel C data ----------
const cycleIndex = [0, 1, 2, 3, 4, 5, 6, 7, 8, 9, 10, 11, 12];
const commonFraction = [.424, .452, .461, .433, .442, .376, .385, .376, .338, .308, .29, .243, .234];
const individualFraction = [.224, .347, .318, .318, .261, .299, .233, .204, .186, .128, .1, .091, .053];
const leaderFraction = [.128, .07, .091, .091, .119, .109, .147, .147, .176, .195, .224, .234, .234];
const followerFraction = [.138, .071, .081, .11, .119, .128, .157, .157, .176, .204, .195, .214, .214];
const hubFraction = [.062, .034, .034, .024, .043, .062, .062, .082, .1, .128, .157, .205, .243];

// ---------- Panel D data ----------
const nodeNames = ["Individual", "Common", "Follower", "Hub", "Leader"];
const nodeX = [146, 361.5, 491, 692, 491];
const nodeY = [261, 261, 165, 261, 382.6];
const nodeLabelX = [146, 360, 497, 689, 489.5];
const nodeLabelY = [316, 316, 112, 316, 438];
const transitions = [
  [190, 261, 323, 261, 1.24], [533, 174, 664, 236.5, 1.0], [651, 251, 520.5, 190, 1.39], [474, 336, 474, 205, 1.36],
  [504.6, 218, 504.6, 350, 1.39], [518, 349, 655, 270, 1.18], [661.5, 295, 524, 374, 1.52],
];
const selfLoops = [
  [120.5, 225, 169, 230, 160, 1.52], [337, 225, 387, 229, 160, 1.21], [666, 225, 715, 229, 160, 2.4],
  [464, 89, 513, 93, 24, 1.36], [464, 464, 513, 463, 529, 1.39],
];
const enrichmentStops: [number, string][] = [
  [0, "#f7e512"], [.13, "#c4cf25"], [.2, "#aac63a"], [.28, "#94bc4c"], [.37, "#6aad60"], [.45, "#3f9f78"],
  [.55, "#1c8a8a"], [.65, "#226a80"], [.75, "#33406f"], [.85, "#402a65"], [1, "#45205f"],
];

// ---------- helpers ----------
const toPairs = (flat: number[]) => {
  const out: number[][] = [];
  for (let i = 0; i + 1 < flat.length; i += 2) out.push([flat[i], flat[i + 1]]);
  return out;
};
const hex = (c: string) => [1, 3, 5].map((i) => parseInt(c.slice(i, i + 2), 16));
const enrichmentColor = (v: number) => {
  const t = (v - 1) / 1.4;
  for (let i = 1; i < enrichmentStops.length; i++) {
    const [t1, c1] = enrichmentStops[i];
    const [t0, c0] = enrichmentStops[i - 1];
    if (t <= t1) {
      const k = (t - t0) / (t1 - t0);
      const a = hex(c0), b = hex(c1);
      return `rgb(${a.map((x, j) => Math.round(x + (b[j] - x) * k)).join(",")})`;
    }
  }
  return enrichmentStops[enrichmentStops.length - 1][1];
};
const cellSeeds = cellSeedRows.join(" ").split(" ").map((p) => p.split(",").map(Number));
const ASPECT_X = 3.75, ASPECT_Y = 4.12;
const voronoiCells = () => {
  const pts = cellSeeds.map(([x, y]) => [x * ASPECT_X, y * ASPECT_Y]);
  const W = 100 * ASPECT_X, H = 100 * ASPECT_Y;
  return pts.map((p, i) => {
    let poly = [[0, 0], [W, 0], [W, H], [0, H]];
    pts.forEach((q, j) => {
      if (i === j) return;
      const mx = (p[0] + q[0]) / 2, my = (p[1] + q[1]) / 2, nx = q[0] - p[0], ny = q[1] - p[1];
      const side = (a: number[]) => (a[0] - mx) * nx + (a[1] - my) * ny;
      const next: number[][] = [];
      for (let k = 0; k < poly.length; k++) {
        const a = poly[k], b = poly[(k + 1) % poly.length];
        const sa = side(a), sb = side(b);
        if (sa <= 0) next.push(a);
        if (sa * sb < 0) {
          const t = sa / (sa - sb);
          next.push([a[0] + (b[0] - a[0]) * t, a[1] + (b[1] - a[1]) * t]);
        }
      }
      poly = next;
    });
    return poly.map(([x, y]) => [x / ASPECT_X, y / ASPECT_Y]);
  });
};

const txt = (text: string, x: number, y: number, size: number, o: any = {}) => ({
  type: "text", x, y, z: 50, silent: true,
  style: {
    text, fontSize: size, fontFamily: FONT, fontWeight: o.weight || "normal", fill: o.fill || "#000",
    align: o.align || "center", verticalAlign: "middle", textAlign: o.align || "center", textVerticalAlign: "middle",
  },
});

const panelLeftA = [90, 523, 953, 1387];
const panelWidthA = [398, 400, 400, 400];
const panelB = [[12, 623, 371, 408], [418, 624, 371, 407], [830, 622, 370, 407], [1237, 623, 372, 407]];
const titleXB = [195, 592, 1000, 1414];
const titleXA = [314.5, 755, 1178, 1610];

function buildOption() {
  const grids: any[] = [], xAxes: any[] = [], yAxes: any[] = [], series: any[] = [], graphic: any[] = [];
  const allPoints = [points0, points4, points8, points12];
  const allDensity = [density0, density4, density8, density12];
  const allColors = [densityColors0, densityColors4, densityColors8, densityColors12];
  const allGuides = [guideLines0, [], [], guideLines12];

  panelLeftA.forEach((left, i) => {
    grids.push({ left, top: 75, width: panelWidthA[i], height: 328 });
    const labelStyle = { fontSize: 40, fontFamily: FONT, color: "#000", margin: 5 };
    xAxes.push({
      type: "value", gridIndex: i, min: -2, max: 3, interval: i === 0 ? undefined : 1,
      name: "Receiver score", nameLocation: "middle", nameGap: 40,
      nameTextStyle: { fontSize: 40, fontFamily: FONT, color: "#000", padding: [0, 0, 0, 104] },
      axisLine: { show: true, onZero: false, lineStyle: { color: "#000", width: 7 } },
      axisTick: { show: false }, splitLine: { show: false },
      axisLabel: i === 0
        ? { ...labelStyle, customValues: scoreTicksA, formatter: (v: number) => scoreLabelsX[scoreTicksA.indexOf(v)] }
        : { ...labelStyle, formatter: (v: number) => String(v) },
    });
    yAxes.push({
      type: "value", gridIndex: i, min: -2, max: 3.05,
      name: i === 0 ? "Transmission score" : "", nameLocation: "middle", nameGap: 50,
      nameTextStyle: { fontSize: 40, fontFamily: FONT, color: "#000" },
      axisLine: { show: true, onZero: false, lineStyle: { color: "#000", width: 7 } },
      axisTick: { show: false }, splitLine: { show: false },
      axisLabel: i === 0
        ? {
            ...labelStyle, margin: 10, rotate: 90, customValues: scoreTicksA,
            formatter: (v: number) => scoreLabelsY[scoreTicksA.indexOf(v)],
          }
        : { show: false },
    });
    const levels = allDensity[i].map((flat) => toPairs(flat));
    const colors = allColors[i];
    series.push({
      type: "custom", coordinateSystem: "cartesian2d", xAxisIndex: i, yAxisIndex: i, clip: false, silent: true, z: 1,
      data: levels.map((_, k) => [k]),
      renderItem: (params: any, api: any) => ({
        type: "polygon",
        shape: { points: levels[params.dataIndex].map((p) => api.coord(p)), smooth: 0.45 },
        style: { fill: colors[params.dataIndex], stroke: "none" },
      }),
    });
    series.push({
      type: "scatter", xAxisIndex: i, yAxisIndex: i, symbol: "rect", symbolSize: 5, clip: false, silent: true, z: 2,
      itemStyle: { color: "#dec067", opacity: 1 }, data: toPairs(allPoints[i]),
    });
    allGuides[i].forEach((seg: any) => {
      series.push({
        type: "line", xAxisIndex: i, yAxisIndex: i, data: seg, showSymbol: false, symbol: "none", clip: false, silent: true, z: 3,
        lineStyle: { color: "#4c72b0", width: 7, type: [28, 15], cap: "butt" },
      });
    });
    graphic.push(txt(cycleTitlesA[i], titleXA[i], 46, 40));
  });

  const cells = voronoiCells();
  panelB.forEach(([left, top, width, height], i) => {
    const g = grids.length;
    grids.push({ left, top, width, height, show: true, borderColor: "#000", borderWidth: 4, backgroundColor: "#000" });
    xAxes.push({ type: "value", gridIndex: g, min: 0, max: 100, show: false });
    yAxes.push({ type: "value", gridIndex: g, min: 0, max: 100, inverse: true, show: false });
    const kinds = cellKindList[i];
    series.push({
      type: "custom", coordinateSystem: "cartesian2d", xAxisIndex: g, yAxisIndex: g, silent: true, z: 2, clip: true,
      data: cellSeeds.map(([x, y], k) => [x, y, k]),
      renderItem: (params: any, api: any) => ({
        type: "polygon",
        shape: { points: cells[params.dataIndex].map((p) => api.coord(p)) },
        style: { fill: cellColors[kinds[params.dataIndex]] || cellColors.C, stroke: "#000", lineWidth: 4, lineJoin: "round" },
      }),
    });
    graphic.push(txt(`Cycle ${[0, 4, 8, 12][i]}`, titleXB[i], 589, 40));
  });
  legendNames.forEach((name, i) => {
    const y = [636, 680, 722, 765, 807][i];
    graphic.push({ type: "circle", z: 50, silent: true, shape: { cx: 1636, cy: y, r: 11 }, style: { fill: cellColors[legendKinds[i]] } });
    graphic.push(txt(name, 1662, y, 32, { align: "left" }));
  });

  // Panel C
  const gC = grids.length;
  grids.push({ left: 97, top: 1205, width: 653, height: 424 });
  xAxes.push({
    type: "value", gridIndex: gC, min: -0.5, max: 12.56, name: "Cycle", nameLocation: "middle", nameGap: 38,
    nameTextStyle: { fontSize: 39.5, fontFamily: FONT, color: "#000" },
    axisLine: { show: true, onZero: false, lineStyle: { color: "#000", width: 7 } }, axisTick: { show: false }, splitLine: { show: false },
    axisLabel: { fontSize: 38, fontFamily: FONT, color: "#000", margin: 6, customValues: [0, 4, 8, 12] },
  });
  yAxes.push({
    type: "value", gridIndex: gC, min: 0, max: .493, name: "Fraction", nameLocation: "middle", nameGap: 56,
    nameTextStyle: { fontSize: 40, fontFamily: FONT, color: "#000" },
    axisLine: { show: true, onZero: false, lineStyle: { color: "#000", width: 7 } }, axisTick: { show: false }, splitLine: { show: false },
    axisLabel: {
      fontSize: 38, fontFamily: FONT, color: "#000", margin: 12, rotate: 90, customValues: [0, .2, .4],
      formatter: (v: number) => (v === 0 ? "  0" : String(v)),
    },
  });
  series.push({
    type: "line", xAxisIndex: gC, yAxisIndex: gC, data: [[-.45, .1], [12.5, .1]], symbol: "none", silent: true, z: 1,
    lineStyle: { color: "#e8e8e8", width: 2 },
  });
  const lineSeries: [string, number[], string][] = [
    ["Hub", hubFraction, "#4c72b0"], ["Common", commonFraction, "#8172b3"], ["Individual", individualFraction, "#dd8452"],
    ["Follower", followerFraction, "#55a868"], ["Leader", leaderFraction, "#c44e52"],
  ];
  lineSeries.forEach(([name, vals, color], k) => {
    series.push({
      type: "line", name, xAxisIndex: gC, yAxisIndex: gC, z: 3 + k, silent: true, symbol: "circle", symbolSize: 21,
      data: cycleIndex.map((c, j) => [c, vals[j]]), itemStyle: { color }, lineStyle: { color, width: 6 },
    });
  });
  graphic.push(txt("Common", 438, 1264, 39.5, { weight: "bold", fill: "#8172b3" }));
  graphic.push(txt("Individual", 227, 1300, 39.5, { weight: "bold", fill: "#dd8452" }));
  graphic.push(txt("Leader", 569, 1410, 39.5, { weight: "bold", fill: "#c44e52" }));
  graphic.push(txt("Follower", 254, 1496, 39.5, { weight: "bold", fill: "#55a868" }));
  graphic.push(txt("Communication hub", 518, 1607, 39.5, { weight: "bold", fill: "#4c72b0" }));

  // Panel D
  const gD = grids.length;
  grids.push({ left: 900, top: 1060, width: 800, height: 650 });
  xAxes.push({ type: "value", gridIndex: gD, min: 0, max: 800, show: false });
  yAxes.push({ type: "value", gridIndex: gD, min: 0, max: 650, inverse: true, show: false });
  const head = (tip: number[], from: number[], color: string, L: number, W: number) => {
    const dx = tip[0] - from[0], dy = tip[1] - from[1], n = Math.hypot(dx, dy) || 1;
    const ux = dx / n, uy = dy / n;
    return {
      type: "polyline",
      shape: { points: [[tip[0] - L * ux - W * uy, tip[1] - L * uy + W * ux], tip, [tip[0] - L * ux + W * uy, tip[1] - L * uy - W * ux]] },
      style: { stroke: color, fill: "none", lineWidth: 8, lineJoin: "miter" },
    };
  };
  series.push({
    type: "custom", coordinateSystem: "cartesian2d", xAxisIndex: gD, yAxisIndex: gD, silent: true, z: 2, clip: false,
    data: nodeNames.map((_, i) => [nodeX[i], nodeY[i]]),
    renderItem: (params: any, api: any) => {
      const c = api.coord([api.value(0), api.value(1)]);
      const l = api.coord([nodeLabelX[params.dataIndex], nodeLabelY[params.dataIndex]]);
      return {
        type: "group",
        children: [
          { type: "circle", shape: { cx: c[0], cy: c[1], r: 34.5 }, style: { fill: "#c7c9ba" } },
          {
            type: "text", x: l[0], y: l[1],
            style: {
              text: nodeNames[params.dataIndex], fontSize: 40, fontFamily: FONT, fill: "#000",
              align: "center", verticalAlign: "middle", textAlign: "center", textVerticalAlign: "middle",
            },
          },
        ],
      };
    },
  });
  series.push({
    type: "custom", coordinateSystem: "cartesian2d", xAxisIndex: gD, yAxisIndex: gD, silent: true, z: 3, clip: false,
    data: transitions,
    renderItem: (_: any, api: any) => {
      const a = api.coord([api.value(0), api.value(1)]);
      const b = api.coord([api.value(2), api.value(3)]);
      const color = enrichmentColor(api.value(4));
      const dx = b[0] - a[0], dy = b[1] - a[1], n = Math.hypot(dx, dy);
      const end = [b[0] - (dx / n) * 6, b[1] - (dy / n) * 6];
      return {
        type: "group",
        children: [
          { type: "line", shape: { x1: a[0], y1: a[1], x2: end[0], y2: end[1] }, style: { stroke: color, lineWidth: 7.5 } },
          head(end, a, color, 21, 14),
        ],
      };
    },
  });
  series.push({
    type: "custom", coordinateSystem: "cartesian2d", xAxisIndex: gD, yAxisIndex: gD, silent: true, z: 3, clip: false,
    data: selfLoops,
    renderItem: (_: any, api: any) => {
      const s = api.coord([api.value(0), api.value(1)]);
      const e = api.coord([api.value(2), api.value(3)]);
      const peak = api.coord([0, api.value(4)])[1];
      const color = enrichmentColor(api.value(5));
      const cy = (peak - 0.125 * (s[1] + e[1])) / 0.75;
      const w = e[0] - s[0];
      const c1x = s[0] + 0.46 * w, c2x = e[0] - 0.46 * w;
      const dir = e[1] > cy ? 1 : -1;
      const tip = [e[0] + 2, e[1] + dir * 4];
      const tailEnd = [e[0] - 2, e[1] - dir * 12];
      return {
        type: "group",
        children: [
          {
            type: "bezierCurve",
            shape: { x1: s[0], y1: s[1], x2: e[0], y2: e[1], cpx1: c1x, cpy1: cy, cpx2: c2x, cpy2: cy },
            style: { stroke: color, lineWidth: 7, fill: "none" },
          },
          head(tip, tailEnd, color, 14, 12),
        ],
      };
    },
  });
  graphic.push({
    type: "rect", z: 50, silent: true, shape: { x: 958, y: 1616, width: 681, height: 44 },
    style: { fill: { type: "linear", x: 0, y: 0, x2: 1, y2: 0, colorStops: enrichmentStops.map(([offset, color]) => ({ offset, color })) } },
  });
  graphic.push(txt("1", 954, 1684, 39.5, { align: "left" }));
  graphic.push(txt("Enrichment factor", 1309, 1684, 39.5));
  graphic.push(txt("2.4", 1646, 1684, 39.5, { align: "right" }));

  // Panel A quadrant names
  graphic.push(txt(quadrantNames[0], 98, 103, 40, { align: "left", fill: "#e60012" }));
  graphic.push(txt(quadrantNames[1], 499, 103, 40, { align: "right", fill: "#e60012" }));
  graphic.push(txt(quadrantNames[2], 100, 272, 40, { align: "left", fill: "#e60012" }));
  graphic.push(txt(quadrantNames[3], 96, 376, 40, { align: "left", fill: "#e60012" }));
  graphic.push(txt(quadrantNames[4], 509, 376, 40, { align: "right", fill: "#e60012" }));

  // Panel letters
  graphic.push(txt("A", 2, 25, 42, { align: "left", weight: "bold" }));
  graphic.push(txt("B", 2, 531, 44, { align: "left", weight: "bold" }));
  graphic.push(txt("C", 2, 1102, 44, { align: "left", weight: "bold" }));
  graphic.push(txt("D", 838, 1102, 44, { align: "left", weight: "bold" }));

  return {
    animation: false, backgroundColor: "#fff", tooltip: { show: false },
    grid: grids, xAxis: xAxes, yAxis: yAxes, series, graphic: { elements: graphic },
  };
}

export default function App() {
  const ref = useRef<HTMLDivElement>(null);
  useEffect(() => {
    const chart = echarts.init(ref.current!, undefined, { renderer: "svg" });
    chart.setOption(buildOption());
    return () => chart.dispose();
  }, []);
  return <div ref={ref} style={{ position: "absolute", left: 0, top: 0, width: 1800, height: 1713 }} />;
}
